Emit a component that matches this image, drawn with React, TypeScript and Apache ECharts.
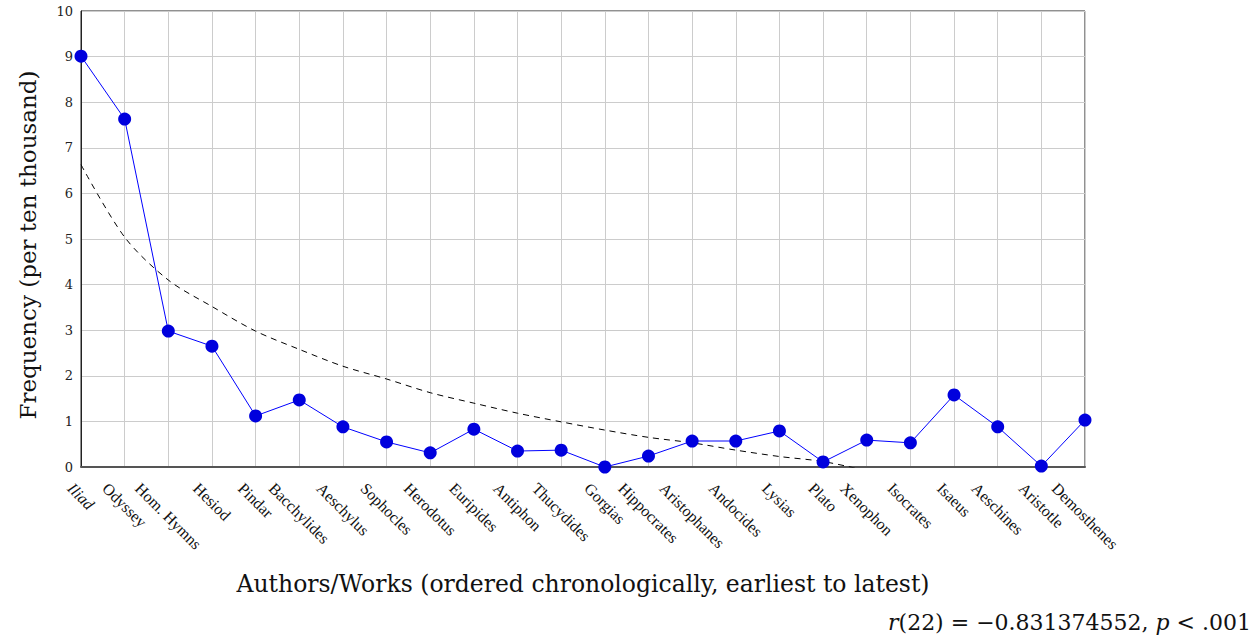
import React, { useEffect, useRef } from "react";
import * as echarts from "echarts";

const categories = [
  "Iliad", "Odyssey", "Hom. Hymns", "Hesiod", "Pindar", "Bacchylides", "Aeschylus",
  "Sophocles", "Herodotus", "Euripides", "Antiphon", "Thucydides", "Gorgias",
  "Hippocrates", "Aristophanes", "Andocides", "Lysias", "Plato", "Xenophon",
  "Isocrates", "Isaeus", "Aeschines", "Aristotle", "Demosthenes",
];

const italicCategories = ["Iliad"];

const frequency = [
  9.01, 7.63, 2.98, 2.65, 1.12, 1.47, 0.88, 0.55, 0.31, 0.83, 0.35, 0.37, 0.0,
  0.24, 0.57, 0.57, 0.79, 0.11, 0.59, 0.53, 1.58, 0.88, 0.02, 1.03,
];

const trend = [
  6.63, 5.04, 4.1, 3.52, 2.98, 2.58, 2.21, 1.93, 1.63, 1.4, 1.18, 0.99, 0.81,
  0.65, 0.53, 0.37, 0.23, 0.12, -0.08, null, null, null, null, null,
];

const yTicks = { min: 0, max: 10, interval: 1 };

const LABEL_FONT = "Liberation Serif";
const LABEL_SIZE = 16;

function measure(text: string, italic: boolean): number {
  const c = document.createElement("canvas");
  const ctx = c.getContext("2d")!;
  ctx.font = `${italic ? "italic " : ""}${LABEL_SIZE}px "${LABEL_FONT}"`;
  return ctx.measureText(text).width;
}

export default function App() {
  const ref = useRef<HTMLDivElement>(null);
  useEffect(() => {
    const chart = echarts.init(ref.current!, null, { renderer: "svg" });
    chart.setOption({
      animation: false,
      backgroundColor: "#ffffff",
      grid: {
        left: 81,
        right: 175,
        top: 11,
        bottom: 171,
        show: true,
        borderColor: "#222",
        borderWidth: 1,
      },
      xAxis: {
        type: "category",
        data: categories,
        boundaryGap: false,
        axisLine: { lineStyle: { color: "#555", width: 2 } },
        axisTick: { show: false },
        splitLine: { show: true, interval: 0, lineStyle: { color: "#cccccc", width: 1 } },
        axisLabel: { show: false, interval: 0 },
      },
      yAxis: {
        type: "value",
        min: yTicks.min,
        max: yTicks.max,
        interval: yTicks.interval,
        axisLine: { show: true, lineStyle: { color: "#222", width: 1 } },
        axisTick: { show: false },
        splitLine: { show: true, lineStyle: { color: "#cccccc", width: 1 } },
        axisLabel: {
          fontFamily: "DejaVu Serif",
          fontSize: 13,
          color: "#222",
          margin: 8,
        },
      },
      series: [
        {
          type: "line",
          data: trend,
          symbol: "none",
          smooth: 0.3,
          lineStyle: { color: "#000", width: 1, type: [6, 5] },
          z: 3,
        },
        {
          type: "line",
          data: frequency,
          symbol: "circle",
          symbolSize: 13,
          itemStyle: { color: "#0000dd" },
          lineStyle: { color: "#0000ff", width: 1 },
          z: 4,
        },
      ],
    });

    const axisY = chart.convertToPixel({ yAxisIndex: 0 }, 0) as number;
    const k = Math.SQRT1_2;
    const labelEls = categories.map((cat) => {
      const italic = italicCategories.includes(cat);
      const tx = chart.convertToPixel({ xAxisIndex: 0 }, cat) as number;
      const L = measure(cat, italic);
      const H = LABEL_SIZE;
      return {
        type: "text",
        x: tx - (L - H) * k / 2,
        y: axisY + 13,
        rotation: -Math.PI / 4,
        silent: true,
        style: {
          text: cat,
          fontFamily: LABEL_FONT,
          fontSize: LABEL_SIZE,
          fontStyle: italic ? "italic" : "normal",
          fill: "#111",
          textAlign: "left",
          textVerticalAlign: "top",
        },
      };
    });

    chart.setOption({
      graphic: [
        ...labelEls,
        {
          type: "text",
          x: 28,
          y: 245,
          rotation: Math.PI / 2,
          silent: true,
          style: {
            text: "Frequency (per ten thousand)",
            fontFamily: "DejaVu Serif",
            fontSize: 23,
            fill: "#111",
            textAlign: "center",
            textVerticalAlign: "middle",
          },
        },
        {
          type: "text",
          x: 583,
          y: 584,
          silent: true,
          style: {
            text: "Authors/Works (ordered chronologically, earliest to latest)",
            fontFamily: "DejaVu Serif",
            fontSize: 23.5,
            fill: "#111",
            textAlign: "center",
            textVerticalAlign: "middle",
          },
        },
        {
          type: "text",
          x: 1251,
          y: 622,
          silent: true,
          style: {
            text: "{i|r}(22) = −0.831374552, {i|p} < .001",
            fontFamily: "DejaVu Serif",
            fontSize: 22,
            fill: "#111",
            textAlign: "right",
            textVerticalAlign: "middle",
            rich: {
              i: { fontStyle: "italic", fontFamily: "DejaVu Serif", fontSize: 22, fill: "#111" },
            },
          },
        },
      ],
    });
    return () => chart.dispose();
  }, []);
  return (
    <div
      ref={ref}
      style={{ position: "fixed", left: 0, top: 0, width: 1260, height: 638 }}
    />
  );
}
